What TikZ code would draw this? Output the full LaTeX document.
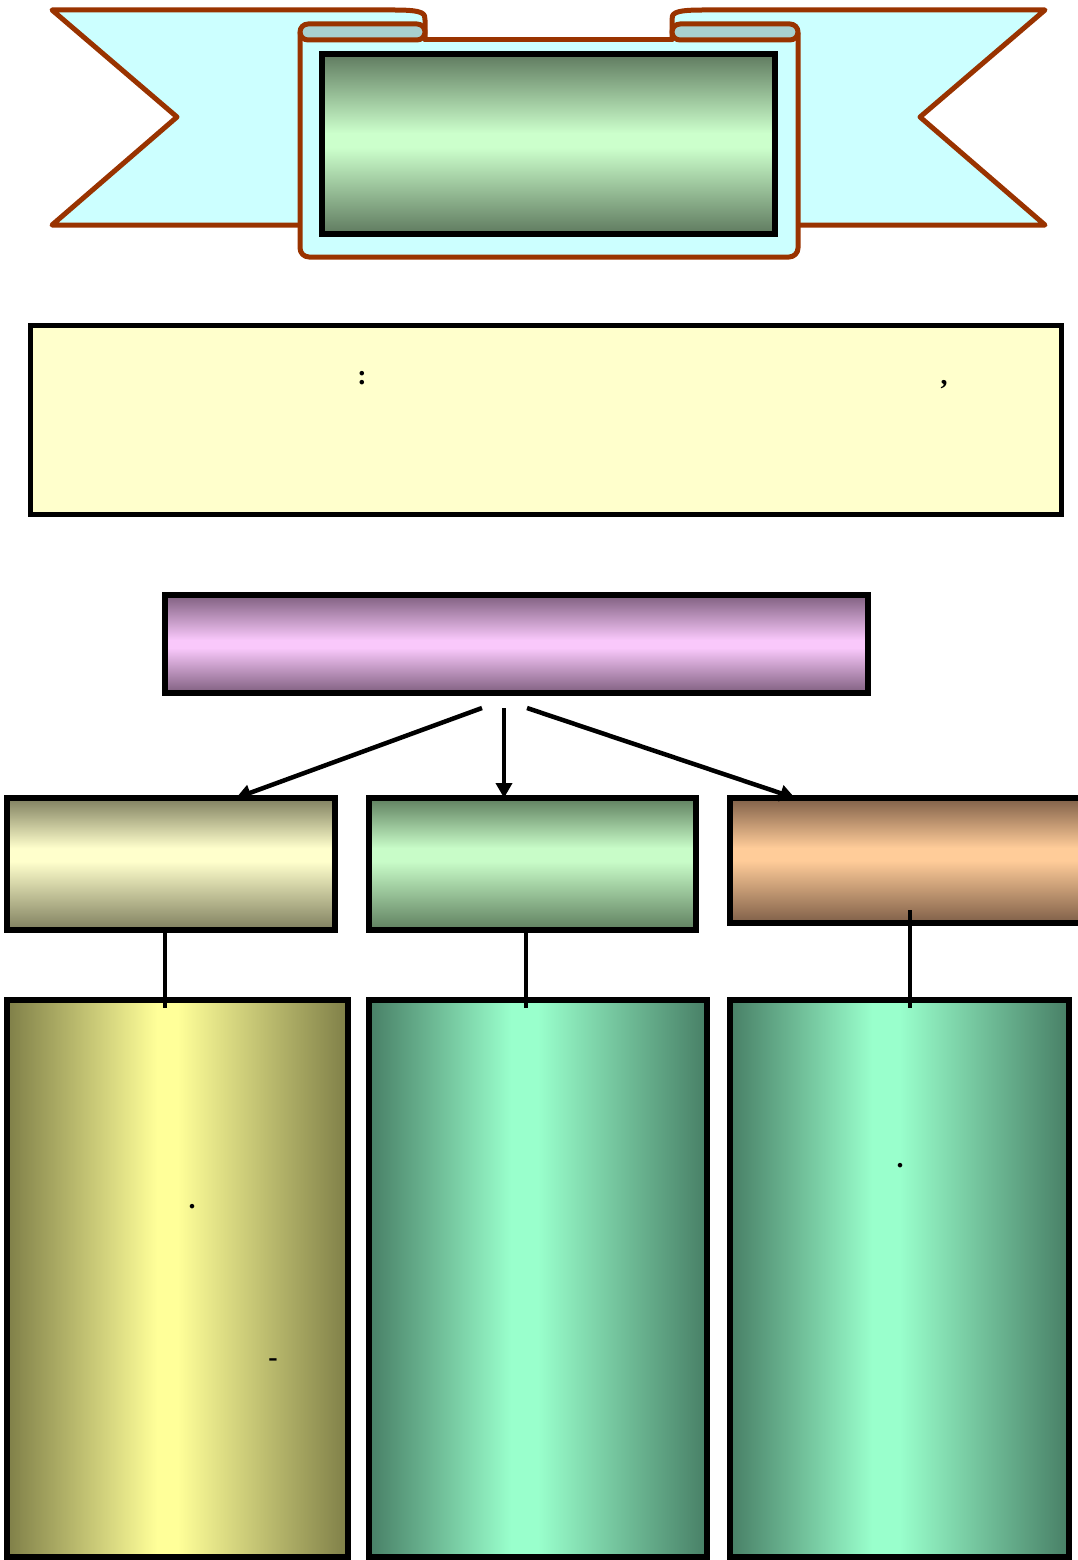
\documentclass[tikz,border=0pt]{standalone}
\usepackage{fontspec}
\setmainfont{Liberation Serif}
\usetikzlibrary{arrows.meta}
\definecolor{brn}{HTML}{993300}
\definecolor{cyanL}{HTML}{CCFFFF}
\definecolor{cyanD}{HTML}{A8D0D0}
\definecolor{tdark}{HTML}{5F7A5F}
\definecolor{tlight}{HTML}{CCFFCC}
\definecolor{pdark}{HTML}{7F5F7F}
\definecolor{plight}{HTML}{F9C8FB}
\definecolor{adark}{HTML}{7F7F5F}
\definecolor{alight}{HTML}{FFFFCC}
\definecolor{bdark}{HTML}{5F7F5F}
\definecolor{blight}{HTML}{C8FCC8}
\definecolor{cdark}{HTML}{7F5F48}
\definecolor{clight}{HTML}{FFCC99}
\definecolor{ddark}{HTML}{7F7F48}
\definecolor{dlight}{HTML}{FFFF99}
\definecolor{edark}{HTML}{487F66}
\definecolor{elight}{HTML}{99FFCC}
\definecolor{yel}{HTML}{FFFFCC}
\pgfdeclareverticalshading{vtitle}{100bp}{color(0bp)=(tdark); color(25bp)=(tdark); color(49bp)=(tlight); color(53bp)=(tlight); color(75bp)=(tdark); color(100bp)=(tdark)}
\pgfdeclareverticalshading{vpurp}{100bp}{color(0bp)=(pdark); color(25bp)=(pdark); color(48bp)=(plight); color(52bp)=(plight); color(75bp)=(pdark); color(100bp)=(pdark)}
\pgfdeclareverticalshading{va}{100bp}{color(0bp)=(adark); color(25bp)=(adark); color(51bp)=(alight); color(56bp)=(alight); color(75bp)=(adark); color(100bp)=(adark)}
\pgfdeclareverticalshading{vb}{100bp}{color(0bp)=(bdark); color(25bp)=(bdark); color(51bp)=(blight); color(56bp)=(blight); color(75bp)=(bdark); color(100bp)=(bdark)}
\pgfdeclareverticalshading{vc}{100bp}{color(0bp)=(cdark); color(25bp)=(cdark); color(50bp)=(clight); color(55bp)=(clight); color(75bp)=(cdark); color(100bp)=(cdark)}
\pgfdeclarehorizontalshading{hd}{100bp}{color(0bp)=(ddark); color(25bp)=(ddark); color(47bp)=(dlight); color(50bp)=(dlight); color(75bp)=(ddark); color(100bp)=(ddark)}
\pgfdeclarehorizontalshading{he}{100bp}{color(0bp)=(edark); color(25bp)=(edark); color(46bp)=(elight); color(50bp)=(elight); color(75bp)=(edark); color(100bp)=(edark)}
\tikzset{
  box/.style={draw=black, line width=6pt, inner sep=0pt, outer sep=0pt, rectangle},
  rib/.style={draw=brn, line width=5pt, line join=round, line cap=round},
  conn/.style={line width=4.5pt, draw=black},
  arr/.style={conn, -{Triangle[length=15pt,width=16pt]}},
  punct/.style={anchor=base, inner sep=0pt, font=\fontsize{28}{32}\selectfont\bfseries}
}
\begin{document}
\begin{tikzpicture}[x=1pt,y=-1pt]
\useasboundingbox (0,0) rectangle (1077,1560);
% ---- banner tails
\fill[cyanL] (52,10) -- (395,10) .. controls (425,10) and (425,14) .. (425,20) -- (425,40) -- (300,40) -- (300,225) -- (52,225) -- (177,117) -- cycle;
\draw[rib] (300,225) -- (52,225) -- (177,117) -- (52,10) -- (395,10) .. controls (425,10) and (425,14) .. (425,20) -- (425,40);
\fill[cyanL] (1045,10) -- (702,10) .. controls (672,10) and (672,14) .. (672,20) -- (672,40) -- (797,40) -- (797,225) -- (1045,225) -- (920,117) -- cycle;
\draw[rib] (797,225) -- (1045,225) -- (920,117) -- (1045,10) -- (702,10) .. controls (672,10) and (672,14) .. (672,20) -- (672,40);
% ---- banner body
\fill[cyanL, rounded corners=9pt] (300,40) -- (300,257) -- (798,257) -- (798,40) -- cycle;
\fill[cyanD, rounded corners=8pt] (300,24) rectangle (425,40);
\fill[cyanD, rounded corners=8pt] (672,24) rectangle (798,40);
\draw[rib, rounded corners=9pt] (300,33) -- (300,257) -- (798,257) -- (798,33);
\draw[rib] (425,40) -- (672,40);
\draw[rib, rounded corners=8pt] (300,24) rectangle (425,40);
\draw[rib, rounded corners=8pt] (672,24) rectangle (798,40);
\node[box, shading=vtitle, minimum width=453pt, minimum height=180pt] (title) at (548.5,144) {};
% ---- yellow box
\node[box, line width=5pt, fill=yel, minimum width=1031pt, minimum height=189pt] (intro) at (545.5,419.5) {};
\node[punct] (p1) at (362,384) {:};
\node[punct] (p2) at (944,384) {,};
% ---- purple box
\node[box, shading=vpurp, minimum width=703pt, minimum height=98pt] (main) at (516.5,644) {};
% ---- middle row
\node[box, shading=va, minimum width=328pt, minimum height=132pt] (A) at (171,864) {};
\node[box, shading=vb, minimum width=327pt, minimum height=132pt] (B) at (532.5,864) {};
\node[box, shading=vc, minimum width=360pt, minimum height=125pt] (C) at (910,860.5) {};
% ---- bottom row
\node[box, shading=hd, minimum width=341pt, minimum height=557pt] (D) at (177.5,1278.5) {};
\node[box, shading=he, minimum width=338pt, minimum height=557pt] (E) at (538,1278.5) {};
\node[box, shading=he, minimum width=339pt, minimum height=557pt] (F) at (899.5,1278.5) {};
\node[punct] (p3) at (192,1208) {.};
\node[punct] (p4) at (273,1366) {-};
\node[punct] (p5) at (900,1167) {.};
% ---- connectors
\coordinate (s1) at (482,708);
\coordinate (s2) at (504,708);
\coordinate (s3) at (527,708);
\draw[arr] (s1) -- ([xshift=65pt]A.north);
\draw[arr] (s2) -- ([xshift=-28.5pt]B.north);
\draw[arr] (s3) -- ([xshift=-115pt]C.north);
\draw[conn] ([xshift=-6pt]A.south) -- ([xshift=-12.5pt,yshift=-8pt]D.north);
\draw[conn] ([xshift=-6.5pt]B.south) -- ([xshift=-12pt,yshift=-8pt]E.north);
\draw[conn] ([yshift=13pt]C.south) -- ([xshift=10.5pt,yshift=-8pt]F.north);
\end{tikzpicture}
\end{document}
